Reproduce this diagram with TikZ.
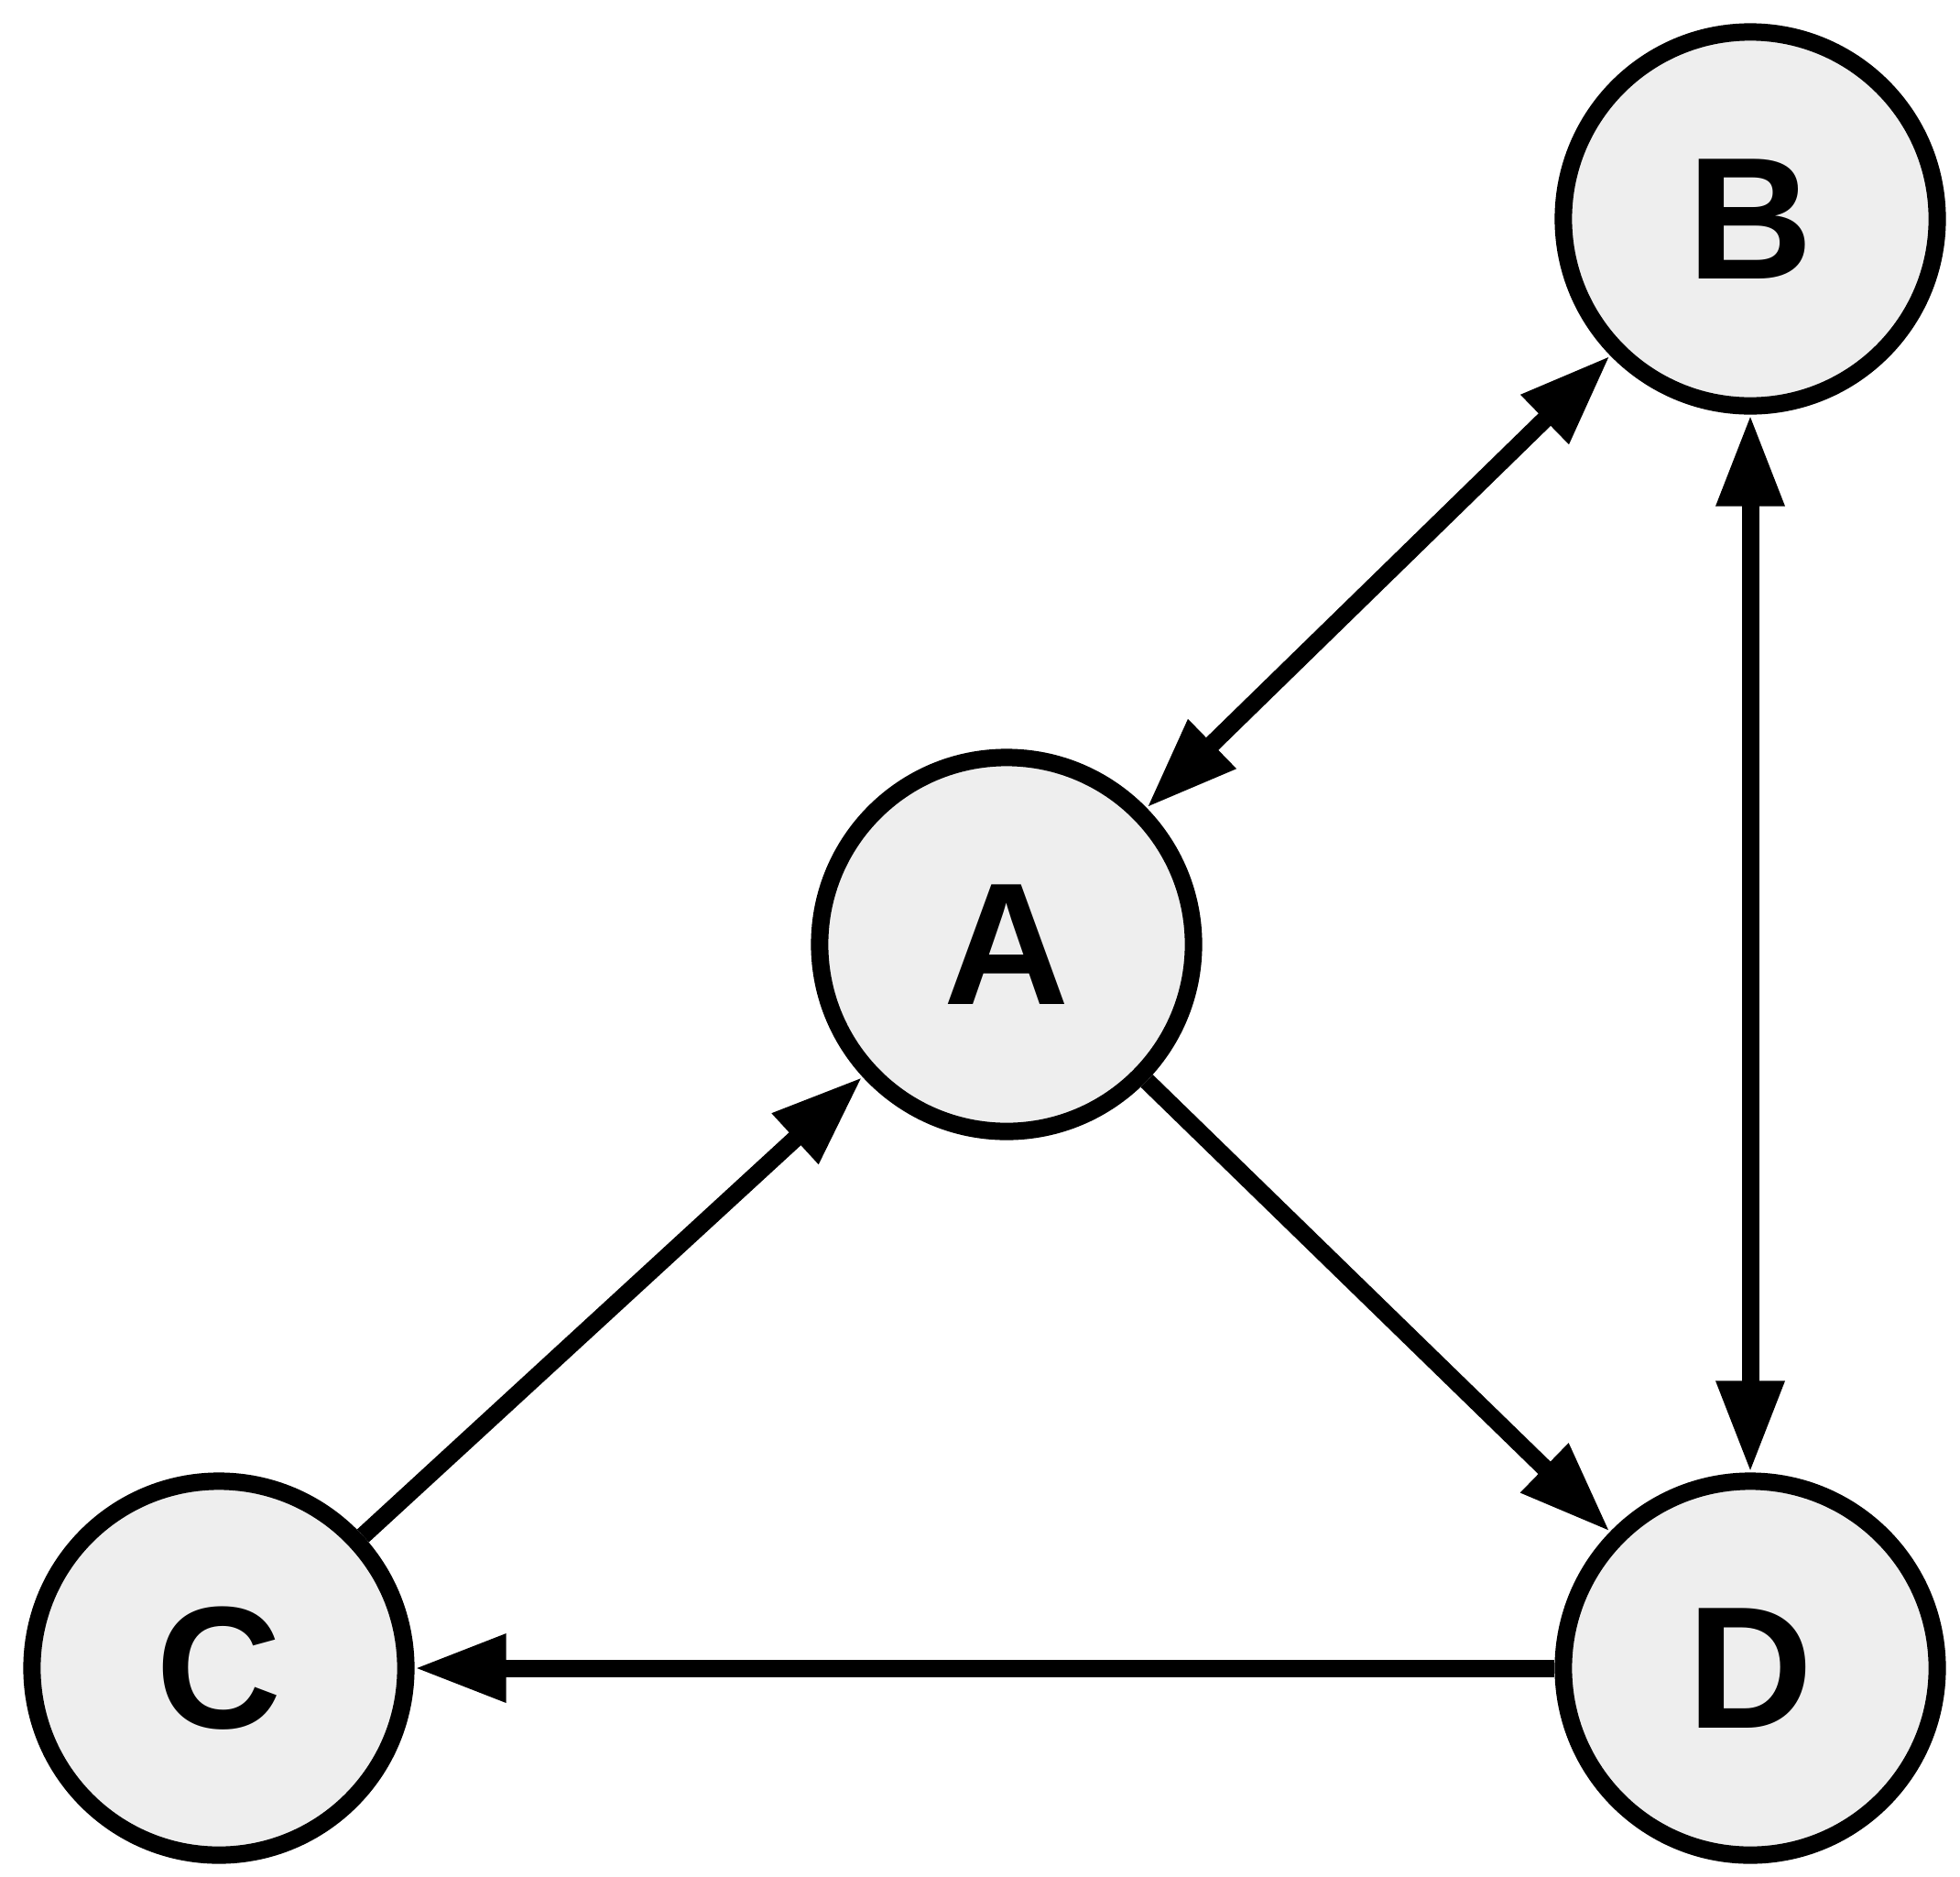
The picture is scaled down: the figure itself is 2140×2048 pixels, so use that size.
\documentclass[tikz,border=0pt]{standalone}
\usepackage{fontspec}
\setmainfont{Liberation Sans}
\usetikzlibrary{arrows.meta}
\begin{document}
\begin{tikzpicture}[x=0.01cm,y=-0.01cm,
  vnode/.style={circle, draw=black, fill=nodegray, line width=5.4pt,
    minimum size=4.08cm, inner sep=0pt,
    font=\fontsize{54}{54}\selectfont\bfseries},
  edge/.style={line width=5.4pt, draw=black},
  tip/.style={-{Triangle[length=1.0cm,width=0.7cm]}},
  bitip/.style={{Triangle[length=1.0cm,width=0.7cm]}-{Triangle[length=1.0cm,width=0.7cm]}}
]
\definecolor{nodegray}{HTML}{EEEEEE}
\useasboundingbox (0,0) rectangle (2140,2048);
\node[vnode] (B) at (1911,239) {B};
\node[vnode] (A) at (1099,1031) {A};
\node[vnode] (C) at (239,1821) {C};
\node[vnode] (D) at (1911,1821) {D};
\draw[edge,bitip] (A) -- (B);
\draw[edge,bitip] (B) -- (D);
\draw[edge,tip] (C) -- (A);
\draw[edge,tip] (A) -- (D);
\draw[edge,tip] (D) -- (C);
\end{tikzpicture}
\end{document}
